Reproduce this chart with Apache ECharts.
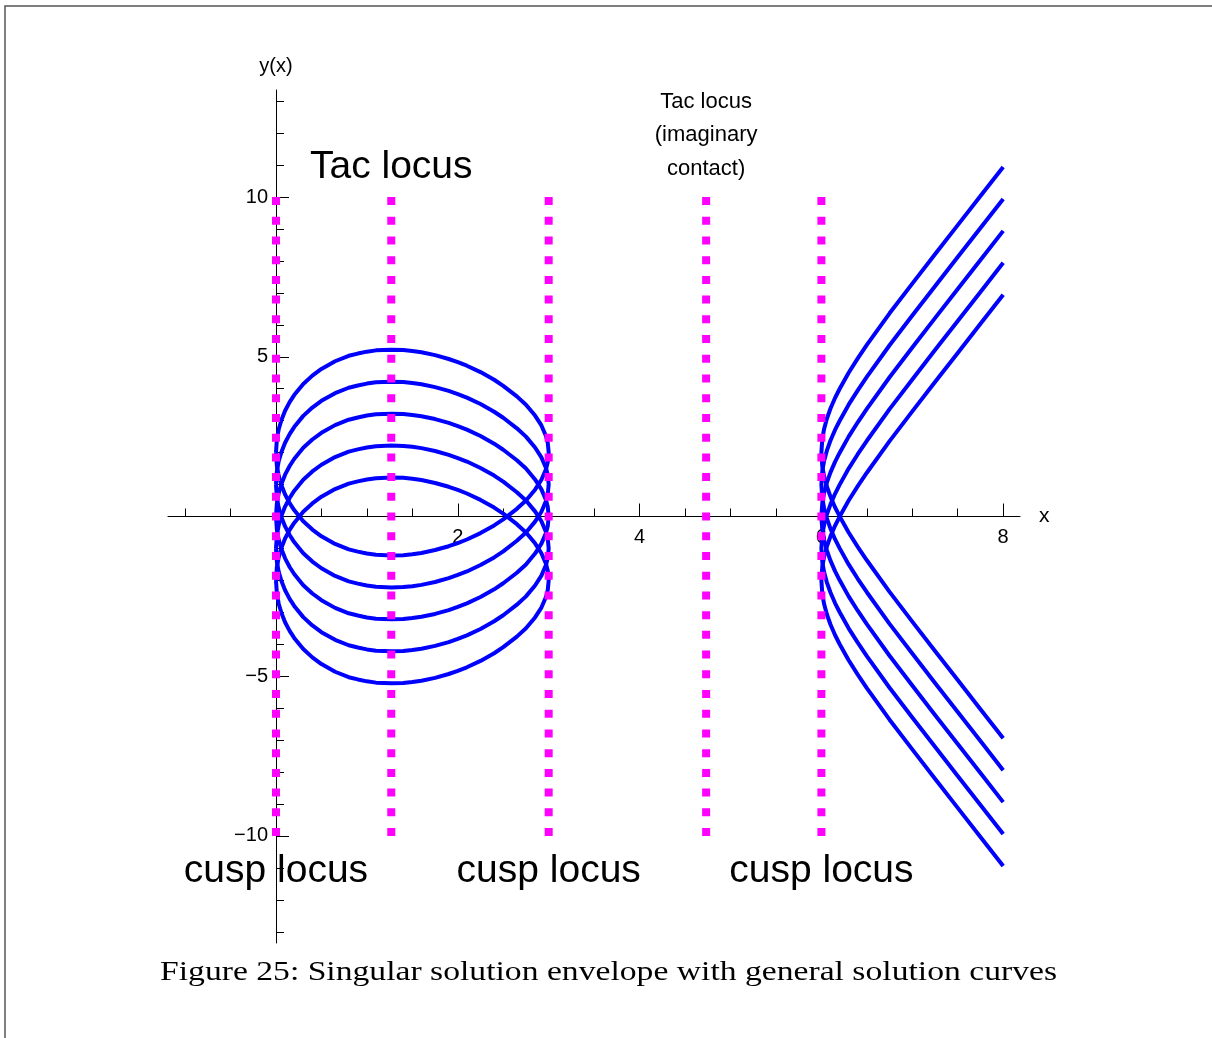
<!DOCTYPE html>
<html>
<head>
<meta charset="utf-8">
<script src="https://cdn.jsdelivr.net/npm/echarts@6/dist/echarts.min.js"></script>
<style>
  html, body { margin: 0; padding: 0; background: #fff; }
  #main { width: 1212px; height: 1038px; }
</style>
</head>
<body>
<div id="main"></div>
<script>
// offsets c of the general solution curves
const offsets = [-2, -1, 0, 1, 2];

// half height of each closed curve above/below its offset (0 <= x <= 3)
const loopX    = [0, 0.01, 0.03, 0.06, 0.1, 0.15, 0.2, 0.3, 0.4, 0.5, 0.65, 0.8, 0.9, 1.0, 1.1, 1.27, 1.4, 1.5, 1.6, 1.75, 1.9, 2.0, 2.1, 2.25, 2.4, 2.5, 2.65, 2.75, 2.85, 2.92, 2.97, 2.99, 3.0];
const loopHalf = [0, 0.42, 0.73, 1.02, 1.31, 1.58, 1.80, 2.15, 2.41, 2.62, 2.86, 3.03, 3.10, 3.16, 3.20, 3.22, 3.21, 3.18, 3.14, 3.05, 2.93, 2.83, 2.72, 2.52, 2.28, 2.09, 1.76, 1.50, 1.16, 0.85, 0.52, 0.30, 0];

// half height of the open branches (x >= 6)
const branchX    = [6, 6.01, 6.03, 6.06, 6.1, 6.15, 6.2, 6.3, 6.4, 6.5, 6.75, 7, 7.25, 7.5, 7.75, 8];
const branchHalf = [0, 0.43, 0.74, 1.06, 1.38, 1.71, 1.99, 2.50, 2.95, 3.37, 4.36, 5.29, 6.21, 7.12, 8.03, 8.94];

// dotted loci
const locusX = [0, 1.268, 3, 4.732, 6];
const locusTop = 10;
const locusBottom = -10;

// text labels (data coordinates)
const cuspLabelX = [0, 3, 6];
const cuspLabelY = -11.1;
const tacLabel = [1.268, 10.94];
const tacImagLabel = [4.732, 11.94];

// axis ticks and labels
const xMajor = [2, 4, 6, 8];
const xMinor = [-1, -0.5, 0.5, 1, 1.5, 2.5, 3, 3.5, 4.5, 5, 5.5, 6.5, 7, 7.5];
const yMajor = [-10, -5, 5, 10];
const yMinor = [-13, -12, -11, -9, -8, -7, -6, -4, -3, -2, -1, 1, 2, 3, 4, 6, 7, 8, 9, 11, 12, 13];

const xRange = [-1.188, 8.185];
const yRange = [-13.35, 13.35];

const chart = echarts.init(document.getElementById('main'));

const blue = '#0000ff';
const magenta = '#ff00ff';
const sans = 'Liberation Sans, Arial, sans-serif';

const series = [];
offsets.forEach(c => {
  const upper = loopX.map((x, i) => [x, c + loopHalf[i]]);
  const lower = loopX.map((x, i) => [x, c - loopHalf[i]]).reverse();
  series.push({
    type: 'line', data: upper.concat(lower), showSymbol: false, symbol: 'none',
    lineStyle: { color: blue, width: 4, join: 'round' }, z: 3, silent: true
  });
  const low = branchX.map((x, i) => [x, c - branchHalf[i]]).reverse();
  const up = branchX.map((x, i) => [x, c + branchHalf[i]]);
  series.push({
    type: 'line', data: low.concat(up), showSymbol: false, symbol: 'none',
    lineStyle: { color: blue, width: 4, join: 'round' }, z: 3, silent: true
  });
});

locusX.forEach(x => {
  series.push({
    type: 'line', data: [[x, locusTop], [x, locusBottom]], showSymbol: false, symbol: 'none',
    lineStyle: { color: magenta, width: 8, type: [8, 11.72], cap: 'butt' }, z: 4, silent: true
  });
});

const fmt = v => (v < 0 ? '\u2212' + Math.abs(v) : String(v));

// caption width fitting
const captionText = 'Figure 25: Singular solution envelope with general solution curves';
const captionFont = 'Liberation Serif';
const captionSize = 28;
const ctx = document.createElement('canvas').getContext('2d');
ctx.font = captionSize + 'px ' + captionFont;
const captionScale = 897 / ctx.measureText(captionText).width;

chart.setOption({
  animation: false,
  backgroundColor: '#fff',
  grid: { left: 168, right: 192, top: 90, bottom: 95, containLabel: false, outerBoundsMode: 'none' },
  xAxis: [
    {
      type: 'value', min: xRange[0], max: xRange[1], position: 'bottom', offset: -426.5,
      axisLine: { show: true, onZero: false, lineStyle: { color: '#000', width: 1 } },
      axisTick: { show: true, inside: true, length: 13, customValues: xMajor, lineStyle: { color: '#000', width: 1 } },
      axisLabel: { show: true, customValues: xMajor, formatter: fmt, margin: 11, fontFamily: sans, fontSize: 20, color: '#000' },
      splitLine: { show: false },
      name: 'x', nameLocation: 'end', nameGap: 19,
      nameTextStyle: { fontFamily: sans, fontSize: 21, color: '#000' }
    },
    {
      type: 'value', min: xRange[0], max: xRange[1], position: 'bottom', offset: -426.5,
      axisLine: { show: false, onZero: false },
      axisTick: { show: true, inside: true, length: 8, customValues: xMinor, lineStyle: { color: '#000', width: 1 } },
      axisLabel: { show: false },
      splitLine: { show: false }
    }
  ],
  yAxis: [
    {
      type: 'value', min: yRange[0], max: yRange[1], position: 'left', offset: -108,
      axisLine: { show: true, onZero: false, lineStyle: { color: '#000', width: 1 } },
      axisTick: { show: true, inside: true, length: 13, customValues: yMajor, lineStyle: { color: '#000', width: 1 } },
      axisLabel: { show: true, customValues: yMajor, formatter: fmt, margin: 8, fontFamily: sans, fontSize: 20, color: '#000' },
      splitLine: { show: false },
      name: 'y(x)', nameLocation: 'end', nameGap: 14,
      nameTextStyle: { fontFamily: sans, fontSize: 20, color: '#000' }
    },
    {
      type: 'value', min: yRange[0], max: yRange[1], position: 'left', offset: -108,
      axisLine: { show: false, onZero: false },
      axisTick: { show: true, inside: true, length: 8, customValues: yMinor, lineStyle: { color: '#000', width: 1 } },
      axisLabel: { show: false },
      splitLine: { show: false }
    }
  ],
  series: series
});

// text labels placed through the grid's coordinate system
const toPx = p => chart.convertToPixel({ gridIndex: 0 }, p);
const labelText = (p, text, size, extra) => {
  const px = toPx(p);
  return {
    type: 'text', x: px[0], y: px[1], z: 10, silent: true,
    style: Object.assign({
      text: text, fontFamily: sans, fontSize: size, fill: '#000',
      align: 'center', verticalAlign: 'middle'
    }, extra || {})
  };
};

const graphics = [
  {
    type: 'rect', shape: { x: 5, y: 6, width: 1400, height: 1200 }, silent: true,
    style: { fill: 'none', stroke: '#555', lineWidth: 1.5 }
  },
  {
    type: 'text', x: 608.5, y: 973, scaleX: captionScale, silent: true,
    style: {
      text: captionText, font: captionSize + 'px ' + captionFont,
      fill: '#000', align: 'center', verticalAlign: 'middle'
    }
  },
  labelText(tacLabel, 'Tac locus', 39),
  labelText(tacImagLabel, 'Tac locus\n(imaginary\ncontact)', 22, { lineHeight: 33.5 })
];
cuspLabelX.forEach(x => graphics.push(labelText([x, cuspLabelY], 'cusp locus', 39)));

chart.setOption({ graphic: graphics });
</script>
</body>
</html>
